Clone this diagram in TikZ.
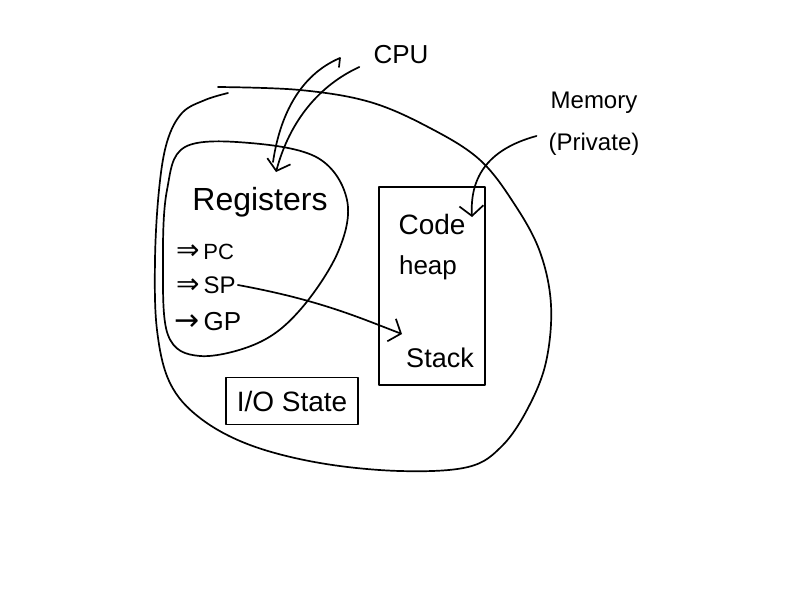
\documentclass[tikz,border=0pt]{standalone}
\usepackage{fontspec}
\setmainfont{Liberation Sans}
\newfontfamily\symfont{DejaVu Sans}
\usetikzlibrary{arrows.meta}
\newcommand{\arw}[2]{{\symfont\fontsize{#1}{#1}\selectfont #2}}
\begin{document}
\begin{tikzpicture}[x=1pt,y=-1pt,
  ink/.style={line width=1.7pt, line cap=round, line join=round},
  barb/.style={ink, -{Straight Barb[length=10pt,width=24pt,line width=1.7pt]}},
  lbl/.style={inner sep=0pt, font=\fontsize{26}{30}\selectfont}]
\useasboundingbox[fill=white] (0,0) rectangle (800,600);
% outer blob (process), open at the top left
\draw[ink] plot[smooth, tension=0.6] coordinates {
  (218,87) (300,90) (370,102) (430,128) (480,160) (515,205) (540,252)
  (551,305) (546,362) (528,408) (502,446) (468,467) (400,471) (320,463)
  (250,445) (200,418) (170,383) (157,330) (155,260) (159,190) (167,142)
  (182,113) (205,100) (228,93)};
% registers blob (CPU)
\draw[ink] plot[smooth cycle, tension=0.6] coordinates {
  (185,147) (250,143) (318,158) (347,200) (338,252) (300,310) (258,343)
  (200,356) (168,335) (163,260) (167,190)};
\node[lbl, font=\fontsize{32}{36}\selectfont] (reg) at (260,202) {Registers};
\node[lbl, font=\fontsize{22}{26}\selectfont, anchor=west] (pc) at (176,252) {\arw{28}{⇒}\,PC};
\node[lbl, font=\fontsize{24}{28}\selectfont, anchor=west] (sp) at (176,285) {\arw{28}{⇒}\,SP};
\node[lbl, font=\fontsize{26}{30}\selectfont, anchor=west] (gp) at (174,322) {\arw{30}{→}\,GP};
% memory box
\node[ink, draw, minimum width=106pt, minimum height=198pt, inner sep=0pt] (mem) at (432,286) {};
\node[lbl, font=\fontsize{28}{32}\selectfont] (code) at (432,224) {Code};
\node[lbl, font=\fontsize{26}{30}\selectfont] (heap) at (428,268) {heap};
\node[lbl, font=\fontsize{27}{30}\selectfont] (stack) at (440,358) {Stack};
% I/O state box
\node[ink, draw, minimum width=132pt, minimum height=47pt, inner sep=0pt,
      font=\fontsize{28}{32}\selectfont] (io) at (292,401) {I/O State};
% labels
\node[lbl, font=\fontsize{26}{30}\selectfont] (cpu) at (401,55) {CPU};
\node[lbl, font=\fontsize{24}{42}\selectfont, align=center] (memlbl) at (594,124) {Memory\\(Private)};
\coordinate (cpuhead) at (276,172);
\coordinate (cpuend) at (340,58);
\coordinate (cpuinner) at (273,162);
\coordinate (memhead) at (472,217);
\coordinate (stackhead) at (402,334);
% connectors
\draw[barb] ([xshift=-14pt,yshift=-12pt]cpu.west) .. controls (320,85) and (290,120) .. (cpuhead);
\draw[ink] (cpuend) -- ++(-1,9) (cpuend) .. controls (300,75) and (280,115) .. (cpuinner);
\draw[barb] ([xshift=-12pt,yshift=-12pt]memlbl.west) .. controls (485,150) and (470,180) .. (memhead);
\draw[barb] ([xshift=2pt]sp.east) .. controls (320,300) and (360,318) .. (stackhead);
\end{tikzpicture}
\end{document}
